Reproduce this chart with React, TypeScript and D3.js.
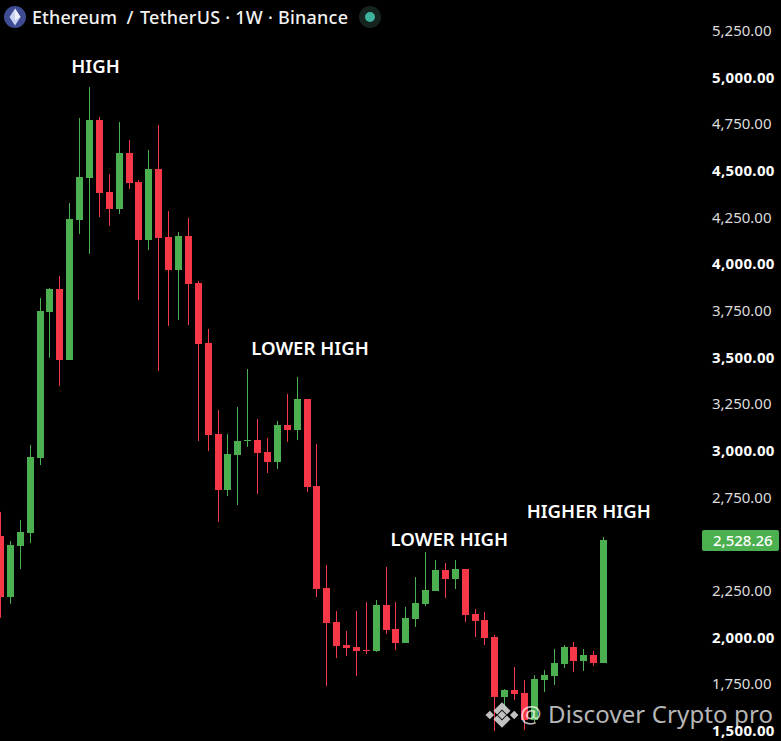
import React from "react";
import * as d3 from "d3";

const opens = [2550,2225,2496,2566,2968,3750,3873,3493,4243,4468,4779,4393,4302,4602,4446,4136,4516,4152,3975,4157,3905,3584,3096,2796,2984,3059,3064,3000,2946,3145,3118,3284,2818,2271,2089,1966,1955,1939,1934,2180,2052,1977,2105,2186,2255,2368,2320,2373,2132,2100,2009,1688,1725,1709,1564,1779,1800,1864,1955,1880,1912,1870];
const closes = [2225,2502,2571,2973,3755,3873,3493,4248,4473,4779,4388,4302,4602,4441,4136,4516,4146,3975,4157,3900,3579,3091,2796,2989,3059,3064,2995,2946,3145,3118,3284,2813,2266,2084,1961,1950,1934,1934,2180,2046,1977,2111,2191,2261,2368,2320,2373,2127,2095,2004,1688,1725,1704,1564,1784,1805,1870,1955,1880,1912,1870,2528.26];
const highs = [2679,2523,2636,3038,3825,3879,3943,4334,4789,4955,4795,4489,4768,4671,4457,4618,4752,4291,4179,4254,3916,3659,3225,3096,3241,3445,3177,3075,3166,3311,3402,3284,3043,2395,2148,2041,2148,2196,2207,2384,2196,2170,2330,2464,2421,2405,2421,2373,2159,2143,2020,1730,1848,1779,1805,1832,1945,1966,1982,1945,1934,2545];
const lows = [2112,2187,2373,2512,2930,3504,3354,3493,4168,4061,4259,4211,4275,4409,3814,4082,3434,3675,3707,3680,3059,3005,2625,2764,2716,3027,2775,2888,2909,3054,3064,2786,2223,1746,1896,1907,1800,1918,1929,2025,1939,1977,2063,2175,2255,2218,2266,2089,2009,1966,1505,1618,1671,1511,1554,1714,1752,1843,1821,1827,1854,1870];
const ticks = [5250,5000,4750,4500,4250,4000,3750,3500,3250,3000,2750,2500,2250,2000,1750,1500];
const majorTicks = [5000,4500,4000,3500,3000,2500,2000,1500];
const lastPrice = 2528.26;
const titleParts = ["Ethereum", "/", "TetherUS · 1W · Binance"];
const annotations = [
  { text: "HIGH", index: 9.6, price: 5033 },
  { text: "LOWER HIGH", index: 31.3, price: 3519 },
  { text: "LOWER HIGH", index: 45.4, price: 2497 },
  { text: "HIGHER HIGH", index: 59.5, price: 2649 },
];
const watermark = "@ Discover Crypto pro";

const GREEN = "#4caf50";
const RED = "#f63748";
const FONT = "'Noto Sans', sans-serif";

const y = d3.scaleLinear().domain([1500, 5250]).range([732, 32]);
const x = d3.scaleLinear().domain([0, 61]).range([0.57, 603.555]);
const fmt = d3.format(",.2f");

export default function App() {
  return (
    <svg width={781} height={741} style={{ position: "fixed", left: 0, top: 0, display: "block", background: "#000" }}>
      <rect width={781} height={741} fill="#000" />
      {opens.map((o, i) => {
        const c = closes[i];
        const col = c >= o ? GREEN : RED;
        const cx = Math.floor(x(i));
        const top = Math.round(y(Math.max(o, c)));
        const bot = Math.round(y(Math.min(o, c)));
        return (
          <g key={i}>
            <rect x={cx} y={y(highs[i])} width={1} height={y(lows[i]) - y(highs[i])} fill={col} />
            <rect x={cx - 3} y={top} width={7} height={Math.max(bot - top, 1)} fill={col} />
          </g>
        );
      })}

      {/* title */}
      <circle cx={15} cy={17} r={11} fill="#3f4c94" />
      <path d="M15 8.5 L20.5 17 L15 25.5 L9.5 17 Z" fill="#c9d2f0" />
      <path d="M15 8.5 L20.5 17 L15 20 Z" fill="#eef1fb" />
      <g fill="#f2f2f2" fontFamily={FONT} fontSize={18} fontWeight={500}>
        <text x={32} y={24} textLength={85} lengthAdjust="spacing">{titleParts[0]}</text>
        <text x={126.5} y={24}>{titleParts[1]}</text>
        <text x={140} y={24} textLength={208} lengthAdjust="spacing">{titleParts[2]}</text>
      </g>
      <circle cx={370} cy={17} r={11} fill="#16241f" />
      <circle cx={370} cy={17} r={5} fill="#3db39e" />

      {/* annotations */}
      {annotations.map((a, i) => (
        <text key={i} x={x(a.index)} y={y(a.price)} textAnchor="middle" fill="#fff" fontFamily={FONT} fontSize={18.6} fontWeight={600}>{a.text}</text>
      ))}

      {/* price axis */}
      {ticks.map((t) => {
        const major = majorTicks.includes(t);
        return (
          <text key={t} x={712} y={y(t) + 4} fill={major ? "#fff" : "#dcdcdc"} fontFamily={FONT} fontSize={15} fontWeight={major ? 700 : 400} letterSpacing={major ? 0.35 : 0}>{fmt(t)}</text>
        );
      })}
      <rect x={702} y={y(lastPrice) - 10} width={77} height={21} rx={2} fill={GREEN} />
      <text x={713} y={y(lastPrice) + 5.5} fill="#fff" fontFamily={FONT} fontSize={15} fontWeight={500}>{fmt(lastPrice)}</text>

      {/* watermark */}
      <g fill="#d2d2d2" opacity={0.92} transform="translate(502 715) scale(1.22) translate(-502 -714.5)">
        <path d="M502 704 l7 7 -3 3 -4 -4 -4 4 -3 -3 Z" />
        <path d="M502 725 l-7 -7 3 -3 4 4 4 -4 3 3 Z" />
        <path d="M502 711 l3.5 3.5 -3.5 3.5 -3.5 -3.5 Z" />
        <path d="M492 711 l3.5 3.5 -3.5 3.5 -3.5 -3.5 Z" />
        <path d="M512 711 l3.5 3.5 -3.5 3.5 -3.5 -3.5 Z" />
      </g>
      <text x={520} y={723} fill="#fff" fillOpacity={0.72} fontFamily={FONT} fontSize={24} textLength={253} lengthAdjust="spacing">{watermark}</text>
    </svg>
  );
}
